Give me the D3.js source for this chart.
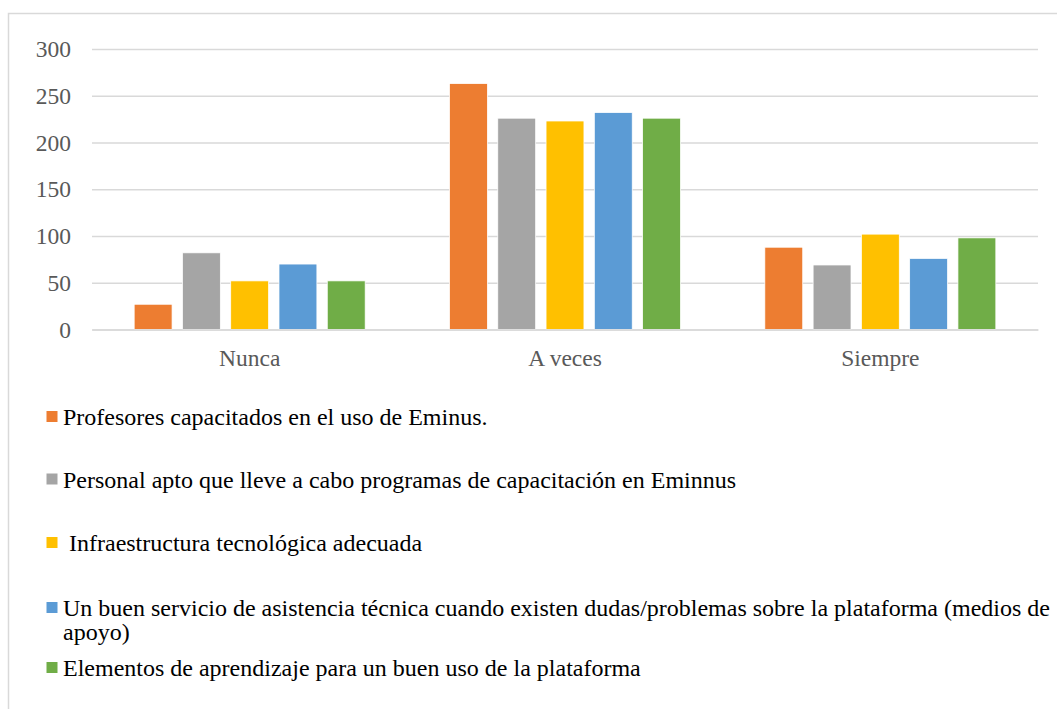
<!DOCTYPE html>
<html>
<head>
<meta charset="utf-8">
<script src="https://cdn.jsdelivr.net/npm/d3@7"></script>
<style>
  html, body { margin: 0; padding: 0; background: #fff; }
  svg { display: block; }
  svg text { font-family: "Liberation Serif", "Times New Roman", Times, "DejaVu Serif", serif; }
</style>
</head>
<body>
<svg id="chart" width="1057" height="709"></svg>
<script>
const categories = ["Nunca", "A veces", "Siempre"];
const seriesNames = [
  "Profesores capacitados en el uso de Eminus.",
  "Personal apto que lleve a cabo programas de capacitación en Eminnus",
  " Infraestructura tecnológica adecuada",
  "Un buen servicio de asistencia técnica cuando existen dudas/problemas sobre la plataforma (medios de apoyo)",
  "Elementos de aprendizaje para un buen uso de la plataforma"
];
const seriesColors = ["#ED7D31", "#A5A5A5", "#FFC000", "#5B9BD5", "#70AD47"];
// values per series (Nunca, A veces, Siempre)
const serie1 = [27, 263, 88];
const serie2 = [82, 226, 69];
const serie3 = [52, 223, 102];
const serie4 = [70, 232, 76];
const serie5 = [52, 226, 98];
const yTicks = [0, 50, 100, 150, 200, 250, 300];

const seriesValues = [serie1, serie2, serie3, serie4, serie5];

const svg = d3.select("#chart");
const W = 1057, H = 709;

svg.append("rect").attr("x", 8.5).attr("y", 13.5).attr("width", W).attr("height", H)
  .attr("fill", "#fff").attr("stroke", "#d9d9d9").attr("stroke-width", 1.5);

const plot = { left: 92, right: 1038, top: 49, bottom: 329.5 };

const x0 = d3.scaleBand().domain(categories).range([plot.left, plot.right]);
const y = d3.scaleLinear().domain([0, 300]).range([plot.bottom, plot.top]);

const groupW = 231;
const x1 = d3.scaleBand().domain(d3.range(seriesNames.length))
  .range([0, groupW]).paddingInner(0.215).paddingOuter(0);

const yAxis = d3.axisLeft(y).tickValues(yTicks).tickSize(-(plot.right - plot.left)).tickPadding(21);
const gy = svg.append("g").attr("transform", `translate(${plot.left},0)`).call(yAxis);
gy.select(".domain").remove();
gy.selectAll(".tick line").attr("stroke", "#d9d9d9").attr("stroke-width", 1.5);
gy.selectAll(".tick text").attr("font-family", null)
  .style("font-size", "23.5px").attr("fill", "#595959");

const groups = svg.append("g").selectAll("g").data(categories).join("g")
  .attr("transform", c => `translate(${x0(c) + x0.bandwidth() / 2 - groupW / 2},0)`);
groups.selectAll("rect")
  .data((c, ci) => seriesValues.map((vals, si) => ({ si, v: vals[ci] })))
  .join("rect")
  .attr("x", d => x1(d.si))
  .attr("width", x1.bandwidth())
  .attr("y", d => y(d.v))
  .attr("height", d => y(0) - y(d.v))
  .attr("fill", d => seriesColors[d.si])
  .attr("stroke", "#fff").attr("stroke-width", 0.75);

const xAxis = d3.axisBottom(x0).tickSize(0).tickPadding(20);
const gx = svg.append("g").attr("transform", `translate(0,${plot.bottom})`).call(xAxis);
gx.select(".domain").attr("stroke", "#d9d9d9").attr("stroke-width", 1.5);
gx.selectAll(".tick text").attr("font-family", null)
  .style("font-size", "23.5px").attr("fill", "#595959");

// legend (text baselines)
const legendBase = [425, 487.5, 551, 616, 676];
const lg = svg.append("g").selectAll("g").data(seriesNames).join("g")
  .attr("transform", (d, i) => `translate(0,${legendBase[i]})`);
lg.append("rect").attr("x", 46.5).attr("y", -14).attr("width", 11).attr("height", 11)
  .attr("fill", (d, i) => seriesColors[i]);
const lt = lg.append("text")
  .attr("x", 63).attr("y", 0)
  .style("font-size", "24px").attr("fill", "#000")
  .style("white-space", "pre");
lt.each(function (d, i) {
  const t = d3.select(this);
  if (i === 3) {
    const cut = d.lastIndexOf(" ");
    t.append("tspan").attr("x", 63).text(d.slice(0, cut));
    t.append("tspan").attr("x", 63).attr("dy", 24).text(d.slice(cut + 1));
  } else {
    t.text(d);
  }
});
</script>
</body>
</html>
